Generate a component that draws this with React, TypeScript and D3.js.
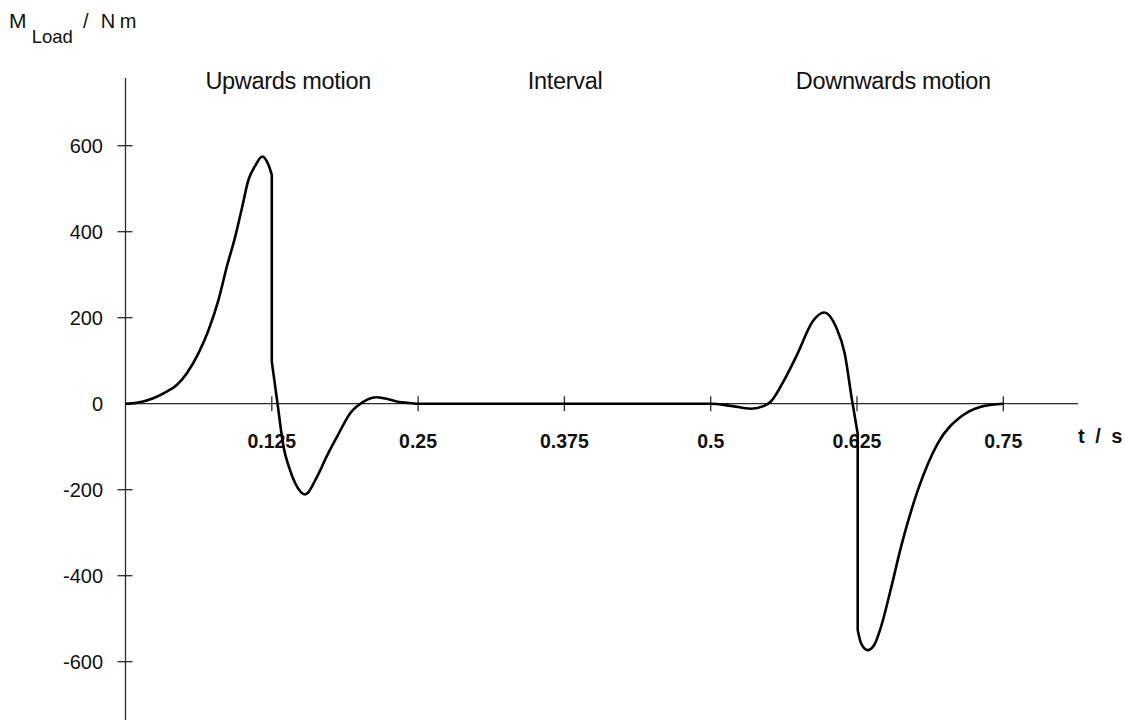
import React from "react";
import * as d3 from "d3";

// time (s) and load torque (N m)
const timeS: number[] = [
  0, 0.0096, 0.0238, 0.0352, 0.0438, 0.0524, 0.0623, 0.0709, 0.0794, 0.0866, 0.0937, 0.0994, 0.105, 0.1108, 0.1168, 0.1222, 0.125,
  0.125, 0.1299, 0.135, 0.14, 0.145, 0.1535, 0.1636, 0.172, 0.1807, 0.192, 0.2035, 0.2149, 0.2263, 0.236, 0.2449, 0.25,
  0.5, 0.5172, 0.5343, 0.5457, 0.5514, 0.5628, 0.5743, 0.5871, 0.597, 0.607, 0.6145, 0.6207, 0.6256,
  0.6256, 0.6285, 0.634, 0.6397, 0.6455, 0.654, 0.6626, 0.677, 0.694, 0.714, 0.731, 0.75,
];
const loadNm: number[] = [
  0, 2, 12.6, 28, 43.5, 71, 117, 171, 241, 319, 388, 454, 520, 553, 575, 555, 532,
  98, 0, -100, -150, -185, -211, -170, -122, -77, -22, 5, 15, 9, 3, 1, 0,
  0, -5, -11.6, -5, 5, 55, 117, 191, 212, 179, 117, 9, -70,
  -526, -557, -573, -561, -519, -430, -333, -201, -92, -30, -7, 0,
];
// indices where the torque jumps vertically (start of a new smooth piece)
const jumpStarts: number[] = [17, 46];

const xTicks: number[] = [0.125, 0.25, 0.375, 0.5, 0.625, 0.75];
const xTickLabels: string[] = ["0.125", "0.25", "0.375", "0.5", "0.625", "0.75"];
const yTicks: number[] = [-600, -400, -200, 0, 200, 400, 600];

const phaseLabels: string[] = ["Upwards motion", "Interval", "Downwards motion"];
const phaseCenters: number[] = [0.139, 0.3756, 0.656];

export default function App() {
  const W = 1125;
  const H = 724;
  const x = d3.scaleLinear().domain([0, 0.75]).range([125.5, 1003.3]);
  const y = d3.scaleLinear().domain([-600, 600]).range([661.7, 145.7]);

  const pts: [number, number][] = timeS.map((t, i) => [t, loadNm[i]]);
  const line = d3
    .line<[number, number]>()
    .x((d) => x(d[0]))
    .y((d) => y(d[1]))
    .curve(d3.curveMonotoneX);

  const bounds = [0, ...jumpStarts, pts.length];
  let pathD = "";
  for (let k = 0; k < bounds.length - 1; k++) {
    const seg = pts.slice(bounds[k], bounds[k + 1]);
    const d = line(seg) || "";
    pathD += k === 0 ? d : d.replace(/^M/, "L");
  }

  const axisColor = "#2a2a2a";
  const font = "'Liberation Sans', Arial, sans-serif";

  return (
    <svg
      width={W}
      height={H}
      style={{ position: "absolute", left: 0, top: 0, background: "#fff" }}
      fontFamily={font}
    >
      {/* y axis */}
      <line x1={x(0)} x2={x(0)} y1={78} y2={720} stroke={axisColor} strokeWidth={1.3} />
      {yTicks.map((v) => (
        <g key={v}>
          {v !== 0 && (
            <line x1={x(0) - 8} x2={x(0) + 7} y1={y(v)} y2={y(v)} stroke={axisColor} strokeWidth={1.3} />
          )}
          <text x={103} y={y(v)} dy="0.36em" textAnchor="end" fontSize={20} fill="#111">
            {v}
          </text>
        </g>
      ))}
      {/* x axis */}
      <line x1={x(0)} x2={1078} y1={y(0)} y2={y(0)} stroke={axisColor} strokeWidth={1.3} />
      {xTicks.map((t, i) => (
        <g key={t}>
          <line x1={x(t)} x2={x(t)} y1={y(0) - 7.5} y2={y(0) + 7.5} stroke={axisColor} strokeWidth={1.3} />
          <text x={x(t)} y={448} textAnchor="middle" fontSize={19.5} fontWeight="bold" fill="#111">
            {xTickLabels[i]}
          </text>
        </g>
      ))}
      <text x={1078} y={443} fontSize={20} fontWeight="bold" wordSpacing={5} fill="#111">
        t / s
      </text>

      {/* y axis title */}
      <text x={9} y={28.3} fontSize={21} fill="#111">M</text>
      <text x={31.7} y={42.7} fontSize={18.5} fill="#111">Load</text>
      <text x={83} y={28.3} fontSize={20} fill="#111">/</text>
      <text x={100.7} y={28.3} fontSize={20} wordSpacing={-1} fill="#111">N m</text>

      {/* phase labels */}
      {phaseLabels.map((s, i) => (
        <text key={s} x={x(phaseCenters[i])} y={89} textAnchor="middle" fontSize={23.5} letterSpacing={-0.3} fill="#111">
          {s}
        </text>
      ))}

      {/* curve */}
      <path d={pathD} fill="none" stroke="#000" strokeWidth={2.6} strokeLinejoin="round" />
    </svg>
  );
}
